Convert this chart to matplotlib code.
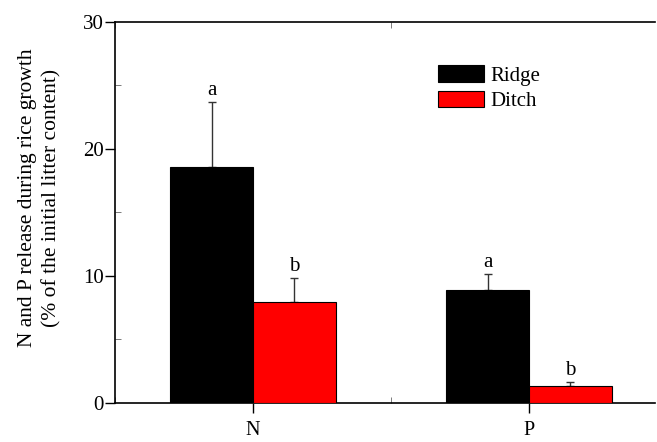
import matplotlib
matplotlib.use("Agg")
import matplotlib.pyplot as plt
import numpy as np
from matplotlib.ticker import MultipleLocator

plt.rcParams['font.family'] = ['Liberation Serif', 'DejaVu Serif']

categories = ["N", "P"]
ridge = [18.54, 8.87]
ridge_err = [5.1, 1.26]
ditch = [7.95, 1.31]
ditch_err = [1.9, 0.32]
ridge_letters = ["a", "a"]
ditch_letters = ["b", "b"]

fig = plt.figure(figsize=(6.57, 4.42), dpi=100)
ax = fig.add_axes([115/657, 1 - 402.7/442, 540/657, (402.7 - 21.7)/442])

x = np.arange(len(categories))
w = 0.30
ax.bar(x - w/2, ridge, w, color="black", edgecolor="black", linewidth=0.8,
       label="Ridge", zorder=3)
ax.bar(x + w/2, ditch, w, color="#ff0000", edgecolor="black", linewidth=0.8,
       label="Ditch", zorder=3)
ax.errorbar(x - w/2, ridge, yerr=[np.zeros(2), ridge_err], fmt="none",
            ecolor="#333333", elinewidth=1.0, capsize=3, capthick=1.0, zorder=2)
ax.errorbar(x + w/2, ditch, yerr=[np.zeros(2), ditch_err], fmt="none",
            ecolor="#333333", elinewidth=1.0, capsize=3, capthick=1.0, zorder=2)

for xi, v, e, t in zip(x - w/2, ridge, ridge_err, ridge_letters):
    ax.text(xi, v + e + 0.55, t, ha="center", va="baseline", fontsize=15)
for xi, v, e, t in zip(x + w/2, ditch, ditch_err, ditch_letters):
    ax.text(xi, v + e + 0.55, t, ha="center", va="baseline", fontsize=15)

ax.set_xlim(-0.5, 1.457)
ax.set_ylim(0, 30)
ax.set_xticks(x)
ax.set_xticklabels(categories, fontsize=14.5)
ax.set_yticks([0, 10, 20, 30])
ax.tick_params(axis="y", labelsize=15, direction="out", length=7, width=1, pad=1)
ax.tick_params(axis="x", direction="out", length=7, width=1, pad=6)
ax.yaxis.set_minor_locator(MultipleLocator(5))
ax.xaxis.set_minor_locator(MultipleLocator(0.5))
ax.tick_params(which="minor", direction="in", length=4, width=0.6, color="#666666",
               top=True, bottom=True, left=True)
ax.spines["right"].set_visible(False)
for s in ["left", "top", "bottom"]:
    ax.spines[s].set_linewidth(1.2)

fig.text(40/657, 1 - 198/442,
         "N and P release during rice growth\n(% of the initial litter content)",
         rotation=90, ha="center", va="center", multialignment="center",
         fontsize=15.5, linespacing=1.35)

leg = ax.legend(loc="upper left", bbox_to_anchor=(438/657, 1 - 65/442),
                bbox_transform=fig.transFigure, frameon=False, fontsize=15,
                handlelength=2.2, handleheight=0.85, handletextpad=0.3,
                labelspacing=0.25, borderpad=0, borderaxespad=0)

fig.savefig("out.png", dpi=100)
